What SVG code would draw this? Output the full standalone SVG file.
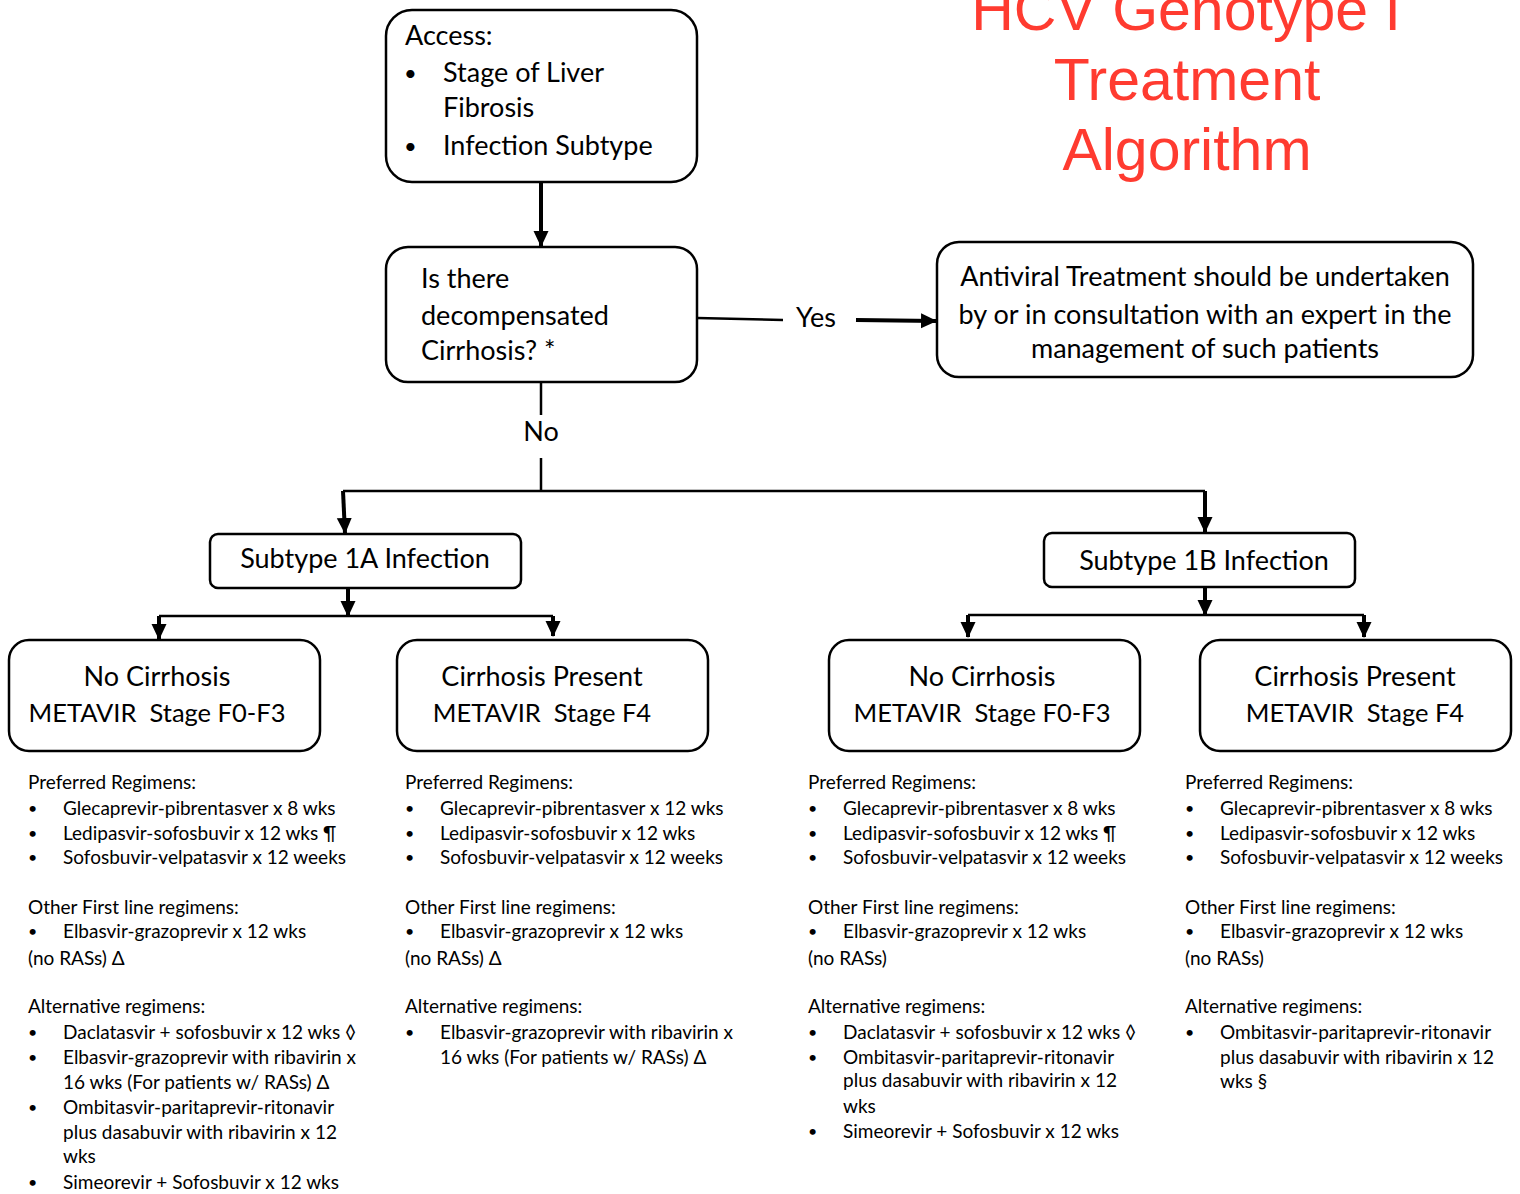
<svg xmlns="http://www.w3.org/2000/svg" width="1520" height="1194" viewBox="0 0 1520 1194">
<style>
.box{fill:#fff;stroke:#000;stroke-width:2.5}
.t{font-family:Lato,"Open Sans",sans-serif;fill:#000}
.big{font-size:27px}
.mv{font-size:25.5px}
.sm{font-size:19px}
.b{font-size:16px}
.bb{font-size:22px}
.title{font-family:"Liberation Sans",Arial,sans-serif;font-size:59px;fill:#ff3b30;text-anchor:middle}
.c{text-anchor:middle}
.thin{stroke:#000;stroke-width:2.5;fill:none}
.thick{stroke:#000;stroke-width:4;fill:none}
</style>
<defs>
<marker id="ah" markerUnits="userSpaceOnUse" markerWidth="17" markerHeight="17" viewBox="0 0 17 17" refX="15" refY="8.5" orient="auto">
<path d="M0,1 L16,8.5 L0,16 Z" fill="#000"/>
</marker>
</defs>

<g id="title">
<text class="title" x="1186" y="30">HCV Genotype I</text>
<text class="title" x="1187" y="100">Treatment</text>
<text class="title" x="1187" y="170">Algorithm</text>
</g>

<g id="connectors">
<line class="thick" x1="541" y1="182" x2="541" y2="246" marker-end="url(#ah)"/>
<line class="thin" x1="697" y1="318" x2="783" y2="320"/>
<line class="thick" x1="856" y1="320" x2="936" y2="321" marker-end="url(#ah)"/>
<line class="thin" x1="541" y1="382" x2="541" y2="415"/>
<line class="thin" x1="541" y1="458" x2="541" y2="491"/>
<line class="thin" x1="343" y1="491" x2="1205" y2="491"/>
<line class="thick" x1="343" y1="491" x2="345" y2="533" marker-end="url(#ah)"/>
<line class="thick" x1="1205" y1="491" x2="1205" y2="532" marker-end="url(#ah)"/>
<line class="thick" x1="348" y1="588" x2="348" y2="616" marker-end="url(#ah)"/>
<line class="thin" x1="159" y1="616" x2="553" y2="616"/>
<line class="thick" x1="159" y1="616" x2="159" y2="639" marker-end="url(#ah)"/>
<line class="thick" x1="553" y1="616" x2="553" y2="636" marker-end="url(#ah)"/>
<line class="thick" x1="1205" y1="587" x2="1205" y2="615" marker-end="url(#ah)"/>
<line class="thin" x1="968" y1="615" x2="1364" y2="615"/>
<line class="thick" x1="968" y1="615" x2="968" y2="637" marker-end="url(#ah)"/>
<line class="thick" x1="1364" y1="615" x2="1364" y2="637" marker-end="url(#ah)"/>
<text class="t big" x="816" y="327" text-anchor="middle">Yes</text>
<text class="t big" x="541" y="441" text-anchor="middle">No</text>
</g>

<g id="access">
<rect class="box" x="386" y="10" width="311" height="172" rx="26"/>
<text class="t big" x="405" y="45">Access:</text>
<text class="t bb" x="404" y="81">•</text>
<text class="t big" x="443" y="82">Stage of Liver</text>
<text class="t big" x="443" y="117">Fibrosis</text>
<text class="t bb" x="404" y="154">•</text>
<text class="t big" x="443" y="155">Infection Subtype</text>
</g>

<g id="decision">
<rect class="box" x="386" y="247" width="311" height="135" rx="22"/>
<text class="t big" x="421" y="288">Is there</text>
<text class="t big" x="421" y="325">decompensated</text>
<text class="t big" x="421" y="360">Cirrhosis? *</text>
</g>

<g id="expert">
<rect class="box" x="937" y="242" width="536" height="135" rx="22"/>
<text class="t big c" x="1205" y="286">Antiviral Treatment should be undertaken</text>
<text class="t big c" x="1205" y="324">by or in consultation with an expert in the</text>
<text class="t big c" x="1205" y="358">management of such patients</text>
</g>

<g id="sub1a">
<rect class="box" x="210" y="534" width="311" height="54" rx="8"/>
<text class="t big c" x="365" y="568">Subtype 1A Infection</text>
</g>
<g id="sub1b">
<rect class="box" x="1044" y="533" width="311" height="54" rx="8"/>
<text class="t big c" x="1204" y="570">Subtype 1B Infection</text>
</g>

<g id="a-nocirr">
<rect class="box" x="9" y="640" width="311" height="111" rx="20"/>
<text class="t big c" x="157" y="686">No Cirrhosis</text>
<text class="t mv c" x="157" y="722" xml:space="preserve">METAVIR  Stage F0-F3</text>
</g>
<g id="a-cirr">
<rect class="box" x="397" y="640" width="311" height="111" rx="20"/>
<text class="t big c" x="542" y="686">Cirrhosis Present</text>
<text class="t mv c" x="542" y="722" xml:space="preserve">METAVIR  Stage F4</text>
</g>
<g id="b-nocirr">
<rect class="box" x="829" y="640" width="311" height="111" rx="20"/>
<text class="t big c" x="982" y="686">No Cirrhosis</text>
<text class="t mv c" x="982" y="722" xml:space="preserve">METAVIR  Stage F0-F3</text>
</g>
<g id="b-cirr">
<rect class="box" x="1200" y="640" width="311" height="111" rx="20"/>
<text class="t big c" x="1355" y="686">Cirrhosis Present</text>
<text class="t mv c" x="1355" y="722" xml:space="preserve">METAVIR  Stage F4</text>
</g>

<g id="text-a-nocirr" class="t sm">
<text x="28" y="789">Preferred Regimens:</text>
<text class="b" x="28" y="814">•</text><text x="63" y="815">Glecaprevir-pibrentasver x 8 wks</text>
<text class="b" x="28" y="839">•</text><text x="63" y="840">Ledipasvir-sofosbuvir x 12 wks ¶</text>
<text class="b" x="28" y="863">•</text><text x="63" y="864">Sofosbuvir-velpatasvir x 12 weeks</text>
<text x="28" y="914">Other First line regimens:</text>
<text class="b" x="28" y="937">•</text><text x="63" y="938">Elbasvir-grazoprevir x 12 wks</text>
<text x="28" y="965">(no RASs) Δ</text>
<text x="28" y="1013">Alternative regimens:</text>
<text class="b" x="28" y="1038">•</text><text x="63" y="1039">Daclatasvir + sofosbuvir x 12 wks ◊</text>
<text class="b" x="28" y="1063">•</text><text x="63" y="1064">Elbasvir-grazoprevir with ribavirin x</text>
<text x="63" y="1089">16 wks (For patients w/ RASs) Δ</text>
<text class="b" x="28" y="1113">•</text><text x="63" y="1114">Ombitasvir-paritaprevir-ritonavir</text>
<text x="63" y="1139">plus dasabuvir with ribavirin x 12</text>
<text x="63" y="1163">wks</text>
<text class="b" x="28" y="1188">•</text><text x="63" y="1189">Simeorevir + Sofosbuvir x 12 wks</text>
</g>

<g id="text-a-cirr" class="t sm">
<text x="405" y="789">Preferred Regimens:</text>
<text class="b" x="405" y="814">•</text><text x="440" y="815">Glecaprevir-pibrentasver x 12 wks</text>
<text class="b" x="405" y="839">•</text><text x="440" y="840">Ledipasvir-sofosbuvir x 12 wks</text>
<text class="b" x="405" y="863">•</text><text x="440" y="864">Sofosbuvir-velpatasvir x 12 weeks</text>
<text x="405" y="914">Other First line regimens:</text>
<text class="b" x="405" y="937">•</text><text x="440" y="938">Elbasvir-grazoprevir x 12 wks</text>
<text x="405" y="965">(no RASs) Δ</text>
<text x="405" y="1013">Alternative regimens:</text>
<text class="b" x="405" y="1038">•</text><text x="440" y="1039">Elbasvir-grazoprevir with ribavirin x</text>
<text x="440" y="1064">16 wks (For patients w/ RASs) Δ</text>
</g>

<g id="text-b-nocirr" class="t sm">
<text x="808" y="789">Preferred Regimens:</text>
<text class="b" x="808" y="814">•</text><text x="843" y="815">Glecaprevir-pibrentasver x 8 wks</text>
<text class="b" x="808" y="839">•</text><text x="843" y="840">Ledipasvir-sofosbuvir x 12 wks ¶</text>
<text class="b" x="808" y="863">•</text><text x="843" y="864">Sofosbuvir-velpatasvir x 12 weeks</text>
<text x="808" y="914">Other First line regimens:</text>
<text class="b" x="808" y="937">•</text><text x="843" y="938">Elbasvir-grazoprevir x 12 wks</text>
<text x="808" y="965">(no RASs)</text>
<text x="808" y="1013">Alternative regimens:</text>
<text class="b" x="808" y="1038">•</text><text x="843" y="1039">Daclatasvir + sofosbuvir x 12 wks ◊</text>
<text class="b" x="808" y="1063">•</text><text x="843" y="1064">Ombitasvir-paritaprevir-ritonavir</text>
<text x="843" y="1087">plus dasabuvir with ribavirin x 12</text>
<text x="843" y="1113">wks</text>
<text class="b" x="808" y="1137">•</text><text x="843" y="1138">Simeorevir + Sofosbuvir x 12 wks</text>
</g>

<g id="text-b-cirr" class="t sm">
<text x="1185" y="789">Preferred Regimens:</text>
<text class="b" x="1185" y="814">•</text><text x="1220" y="815">Glecaprevir-pibrentasver x 8 wks</text>
<text class="b" x="1185" y="839">•</text><text x="1220" y="840">Ledipasvir-sofosbuvir x 12 wks</text>
<text class="b" x="1185" y="863">•</text><text x="1220" y="864">Sofosbuvir-velpatasvir x 12 weeks</text>
<text x="1185" y="914">Other First line regimens:</text>
<text class="b" x="1185" y="937">•</text><text x="1220" y="938">Elbasvir-grazoprevir x 12 wks</text>
<text x="1185" y="965">(no RASs)</text>
<text x="1185" y="1013">Alternative regimens:</text>
<text class="b" x="1185" y="1038">•</text><text x="1220" y="1039">Ombitasvir-paritaprevir-ritonavir</text>
<text x="1220" y="1064">plus dasabuvir with ribavirin x 12</text>
<text x="1220" y="1088">wks §</text>
</g>
</svg>
